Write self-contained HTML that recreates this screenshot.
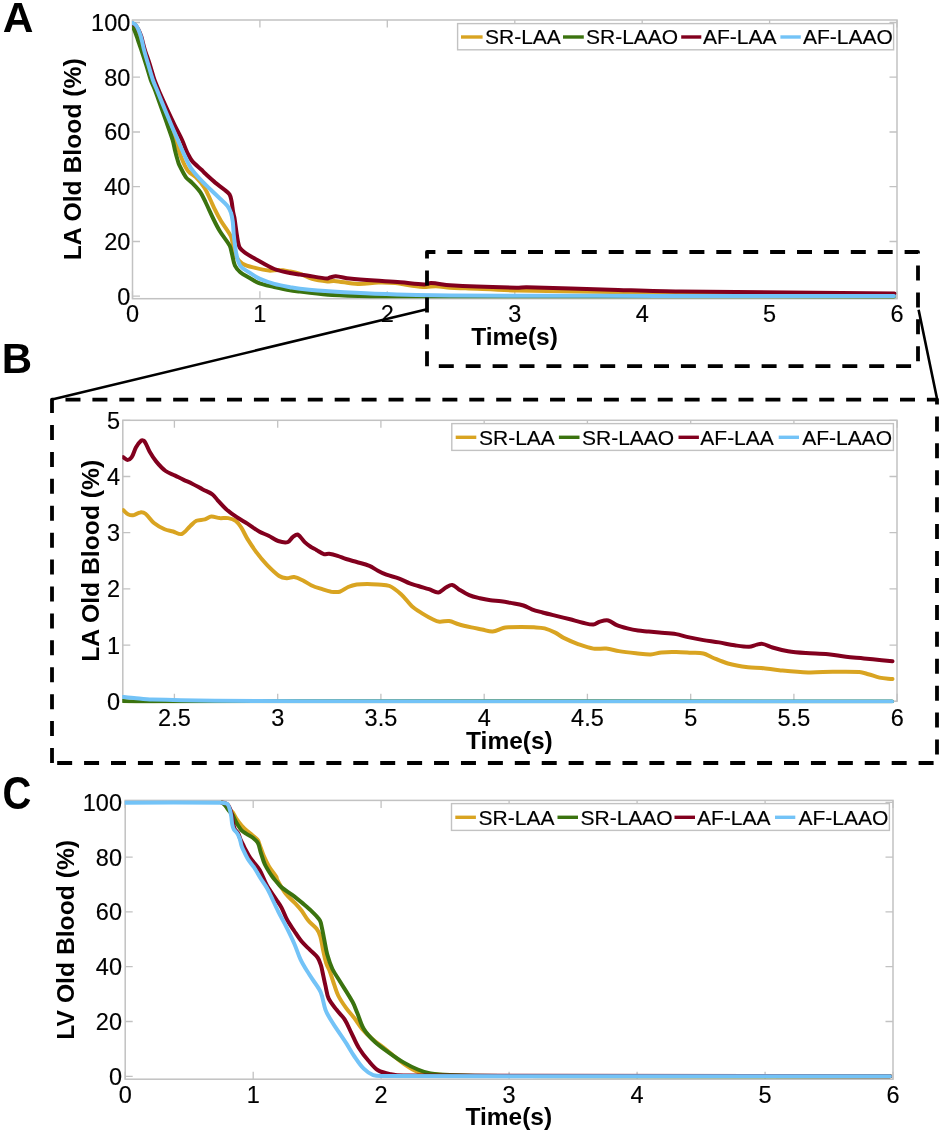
<!DOCTYPE html>
<html><head><meta charset="utf-8"><style>
html,body{margin:0;padding:0;background:#fff;}
svg{display:block;will-change:transform;filter:blur(0.4px);}
text{font-family:"Liberation Sans", sans-serif;fill:#000;stroke:#000;stroke-width:0.15px;} text[font-weight=bold]{stroke-width:0px;}
</style></head><body>
<svg width="942" height="1133" viewBox="0 0 942 1133">
<rect width="942" height="1133" fill="#fff"/>
<defs>
<clipPath id="ca"><rect x="132" y="19" width="767.5" height="281.7"/></clipPath>
<clipPath id="cb"><rect x="122.3" y="419.3" width="777.2" height="284"/></clipPath>
<clipPath id="cc"><rect x="124.7" y="799.4" width="770.8" height="281.8"/></clipPath>
</defs>
<rect x="132.5" y="20" width="764.5" height="278.7" fill="none" stroke="#c2c2c2" stroke-width="1.5"/>
<path d="M132.5 298.7 V291.2 M132.5 20 V27.5 M259.9 298.7 V291.2 M259.9 20 V27.5 M387.3 298.7 V291.2 M387.3 20 V27.5 M514.8 298.7 V291.2 M514.8 20 V27.5 M642.2 298.7 V291.2 M642.2 20 V27.5 M769.6 298.7 V291.2 M769.6 20 V27.5 M897 298.7 V291.2 M897 20 V27.5 M132.5 296.2 H140 M897 296.2 H889.5 M132.5 241.5 H140 M897 241.5 H889.5 M132.5 186.7 H140 M897 186.7 H889.5 M132.5 132 H140 M897 132 H889.5 M132.5 77.2 H140 M897 77.2 H889.5 M132.5 22.5 H140 M897 22.5 H889.5" stroke="#c2c2c2" stroke-width="1.3" fill="none"/>
<text x="132.5" y="322.2" font-size="23.5" text-anchor="middle" font-weight="normal">0</text>
<text x="259.9" y="322.2" font-size="23.5" text-anchor="middle" font-weight="normal">1</text>
<text x="387.3" y="322.2" font-size="23.5" text-anchor="middle" font-weight="normal">2</text>
<text x="514.8" y="322.2" font-size="23.5" text-anchor="middle" font-weight="normal">3</text>
<text x="642.2" y="322.2" font-size="23.5" text-anchor="middle" font-weight="normal">4</text>
<text x="769.6" y="322.2" font-size="23.5" text-anchor="middle" font-weight="normal">5</text>
<text x="897" y="322.2" font-size="23.5" text-anchor="middle" font-weight="normal">6</text>
<text x="130.3" y="304.6" font-size="23.5" text-anchor="end" font-weight="normal">0</text>
<text x="130.3" y="249.9" font-size="23.5" text-anchor="end" font-weight="normal">20</text>
<text x="130.3" y="195.1" font-size="23.5" text-anchor="end" font-weight="normal">40</text>
<text x="130.3" y="140.4" font-size="23.5" text-anchor="end" font-weight="normal">60</text>
<text x="130.3" y="85.7" font-size="23.5" text-anchor="end" font-weight="normal">80</text>
<text x="130.3" y="30.9" font-size="23.5" text-anchor="end" font-weight="normal">100</text>
<path d="M132.6 25.5 C133.8 26.9 135.5 28 136.3 29.6 C138.2 33.6 139.2 38 140.5 42.3 C142.8 49.8 145 57.4 147.3 65 C148.8 70 150.1 75.1 151.8 80 C153 83.4 154.7 86.6 156 90 C158.6 96.6 161.1 103.3 163.7 110 C165.6 115 167.4 120 169.4 125 C170.8 128.6 172.5 132.2 173.8 135.9 C176.4 143 178.4 150.3 181.2 157.2 C183.1 162 185.1 167 188.1 171 C190.1 173.7 193.8 174.9 196.1 177.3 C199.3 180.5 202.2 184.2 204.6 188 C207 191.7 208.6 196 210.5 200 C212.1 203.4 213.5 206.9 215.2 210.2 C217 213.9 218.9 217.5 221 221 C224.1 226.1 228.1 230.8 230.8 236.1 C232.1 238.7 232.2 241.8 232.9 244.6 C233.9 248.5 234.3 252.8 236.1 256.3 C237.5 259.1 239.8 262.1 242.5 263.7 C246.2 265.9 250.9 266.8 255.2 267.9 C259.7 269.1 264.4 270.2 269 270.6 C272.5 270.9 276.1 269.8 279.6 270 C283.1 270.1 286.6 270.9 290 271.5 C293.4 272.1 296.9 272.7 300.2 273.8 C304.3 275.2 308 277.7 312.1 278.9 C317 280.3 322.3 280.9 327.4 281.4 C329.6 281.6 331.9 280.7 334.1 280.9 C342 281.6 349.9 283.7 357.9 284 C364.7 284.3 371.5 282.8 378.3 282.6 C384 282.5 389.7 282.6 395.3 283.1 C401 283.6 406.5 285 412.2 285.7 C416.7 286.3 421.3 286.9 425.8 287 C429.2 287.1 432.6 286.1 436 286.2 C440.7 286.3 445.3 287.4 450 287.7 C455.2 288.1 460.3 288.1 465.5 288.3 C482.5 289 499.4 290 516.4 290.4 C570.9 291.6 625.5 292.3 680 292.9 C751.3 293.7 822.7 294 894 294.5" fill="none" stroke="#D9A421" stroke-width="4.0" stroke-linejoin="round" stroke-linecap="round" clip-path="url(#ca)"/>
<path d="M132.6 27 C133.1 27.9 133.8 28.7 134.2 29.6 C135.1 31.6 135.8 33.8 136.5 35.9 C137.3 38 138 40.2 138.7 42.3 C139.4 44.4 140.2 46.6 140.9 48.7 C142.7 54.1 144.5 59.6 146.2 65 C147.8 70 149.1 75.1 150.8 80 C152 83.4 153.7 86.6 155 90 C156.3 93.3 157.4 96.7 158.6 100 C159.8 103.3 161 106.7 162.2 110 C164 115 165.8 120 167.5 125 C169.2 130 171.1 134.9 172.6 140 C173.6 143.3 174.1 146.7 174.9 150 C175.7 153.3 176.6 156.7 177.6 160 C178 161.5 178.4 163.2 179.1 164.6 C181.2 168.9 183.3 173.4 186 177.3 C187.5 179.4 190 180.7 191.8 182.6 C194.8 185.7 197.9 188.7 200.3 192.2 C202.5 195.4 204 199 205.7 202.5 C208.4 208 210.7 213.6 213.4 219 C215.5 223.3 217.7 227.7 220.2 231.8 C223.1 236.6 227.1 240.8 229.7 245.6 C230.9 247.9 231.1 250.6 231.8 253.1 C232.9 257.3 233.3 261.9 235 265.8 C236.1 268.3 238.2 270.4 240.3 272.2 C242.8 274.3 245.9 275.8 248.8 277.5 C252 279.3 255 281.5 258.4 282.8 C263.5 284.7 269 285.7 274.3 287 C279.5 288.2 284.7 289.4 290 290.3 C293.3 290.9 296.7 291.1 300 291.5 C310.8 292.7 321.6 294.3 332.4 295 C346.5 295.9 360.7 296 374.9 296.2 C399.9 296.5 425 296.3 450 296.3 C598 296.4 746 296.4 894 296.4" fill="none" stroke="#3B730F" stroke-width="4.0" stroke-linejoin="round" stroke-linecap="round" clip-path="url(#ca)"/>
<path d="M132.6 23.5 C133.7 24.2 135 24.6 135.8 25.5 C137.1 26.9 137.9 28.8 138.8 30.5 C139.8 32.4 140.6 34.5 141.3 36.5 C142 38.6 142.4 40.8 143 43 C143.6 45.3 144.2 47.7 144.9 50 C146.5 55 148.4 60 150 65 C151.6 70 152.8 75.1 154.5 80 C155.7 83.4 157.2 86.7 158.6 90 C160 93.4 161.5 96.7 163 100 C164.5 103.3 166 106.7 167.5 110 C169.8 115 172.2 120 174.6 125 C177 130 179.8 134.9 182.1 140 C183.6 143.3 184.7 146.7 186.1 150 C186.8 151.7 187.6 153.4 188.5 155 C189.4 156.7 190.3 158.4 191.4 160 C192.3 161.3 193.4 162.4 194.5 163.5 C196.8 165.8 199.4 167.8 201.8 170 C202.8 171 203.6 172.1 204.6 173.1 C208.1 176.3 211.6 179.6 215.2 182.6 C218.3 185.2 221.7 187.4 224.8 190 C226.4 191.3 228.4 192.6 229.5 194.3 C230.7 196.2 231 198.7 231.5 201 C232.3 204.8 232.5 208.6 233.2 212.4 C233.5 214.3 234.2 216.1 234.5 218 C235.5 224.4 236.1 230.8 237.2 237.2 C237.8 240.8 238.2 244.7 239.8 247.8 C241 250 243.5 251.6 245.6 253.1 C249 255.5 252.7 257.4 256.3 259.4 C262.2 262.7 268 266.5 274.3 269 C279.3 271 284.7 271.9 290 273 C293.3 273.7 296.7 274.1 300 274.6 C302.3 274.9 304.7 275.2 307 275.5 C313.8 276.5 320.7 278 327.4 278.5 C328.6 278.6 329.6 277.5 330.8 277.2 C332.4 276.8 334.1 276.2 335.8 276.3 C340.3 276.6 344.8 278 349.4 278.5 C357.9 279.4 366.4 280 374.9 280.6 C383.4 281.2 391.9 281.6 400.4 282.3 C408.3 282.9 416.2 284.3 424.1 284.5 C426.4 284.6 428.6 283 430.9 283.1 C437.2 283.3 443.6 284.9 450 285.3 C472.1 286.5 494.3 287.2 516.4 287.8 C519.8 287.9 523.2 287.2 526.6 287.3 C557.2 287.9 587.7 289.1 618.3 289.9 C638.9 290.5 659.4 291.2 680 291.5 C751.5 292.4 822.9 292.8 894.4 293.4" fill="none" stroke="#82001E" stroke-width="4.0" stroke-linejoin="round" stroke-linecap="round" clip-path="url(#ca)"/>
<path d="M132.6 23 C133.6 23.6 134.8 24 135.5 24.8 C136.7 26.2 137.6 27.9 138.4 29.6 C139.3 31.6 140 33.8 140.7 35.9 C141.3 38 141.8 40.2 142.3 42.3 C142.8 44.5 143.2 46.8 143.8 49 C145.2 54.4 146.8 59.7 148.4 65 C149.9 70 151.2 75.1 152.9 80 C154.1 83.4 155.6 86.7 157 90 C158.3 93.3 159.7 96.7 161 100 C162.4 103.3 163.7 106.7 165.1 110 C167.2 115 169.2 120 171.3 125 C173.3 129.7 175.4 134.3 177.4 139 C179.7 144.3 181.9 149.7 184.4 155 C186.4 159.3 188.2 163.8 190.8 167.8 C193.5 172 196.9 175.7 200.3 179.4 C203.7 183.1 207.4 186.5 211 190 C214.1 193 217.3 196 220.4 199 C222.8 201.3 225.5 203.4 227.5 206 C229.1 208.1 230.2 210.5 231 213 C232 215.9 232.4 219 232.8 222 C233.4 227 233.4 232.2 234 237.2 C234.7 243.2 235.3 249.3 236.6 255.2 C237.4 258.8 238.2 262.9 240.3 265.8 C242.3 268.6 245.9 270.2 248.8 272.2 C252.2 274.5 255.7 276.9 259.4 278.6 C264.2 280.8 269.2 282.5 274.3 283.9 C279.4 285.3 284.7 286.2 290 287.2 C293.3 287.8 296.6 288.5 300 288.8 C310.8 289.9 321.6 290.9 332.4 291.6 C346.6 292.5 360.7 293.3 374.9 293.8 C399.9 294.6 425 295.3 450 295.5 C520 296 590 295.8 660 295.9 C738 296 816 295.9 894 295.9" fill="none" stroke="#73C3F7" stroke-width="4.0" stroke-linejoin="round" stroke-linecap="round" clip-path="url(#ca)"/>
<rect x="457.6" y="23.6" width="436" height="26.2" fill="#fff" stroke="#c2c2c2" stroke-width="1.4"/>
<path d="M461 37 H482.6" stroke="#D9A421" stroke-width="3.4"/>
<text x="485" y="44.3" font-size="21" text-anchor="start" font-weight="normal">SR-LAA</text>
<path d="M563 37 H583.8" stroke="#3B730F" stroke-width="3.4"/>
<text x="586" y="44.3" font-size="21" text-anchor="start" font-weight="normal">SR-LAAO</text>
<path d="M681.2 37 H701.3" stroke="#82001E" stroke-width="3.4"/>
<text x="703" y="44.3" font-size="21" text-anchor="start" font-weight="normal">AF-LAA</text>
<path d="M780.4 37 H800.8" stroke="#73C3F7" stroke-width="3.4"/>
<text x="803" y="44.3" font-size="21" text-anchor="start" font-weight="normal">AF-LAAO</text>
<text x="514.5" y="344.6" font-size="24.5" text-anchor="middle" font-weight="bold">Time(s)</text>
<text transform="translate(81.2 159.3) rotate(-90)" font-size="24.7" font-weight="bold" text-anchor="middle">LA Old Blood (%)</text>
<rect x="122.8" y="420.3" width="774.2" height="281" fill="none" stroke="#c2c2c2" stroke-width="1.5"/>
<path d="M174.4 701.3 V693.8 M174.4 420.3 V427.8 M277.7 701.3 V693.8 M277.7 420.3 V427.8 M380.9 701.3 V693.8 M380.9 420.3 V427.8 M484.2 701.3 V693.8 M484.2 420.3 V427.8 M587.4 701.3 V693.8 M587.4 420.3 V427.8 M690.7 701.3 V693.8 M690.7 420.3 V427.8 M793.9 701.3 V693.8 M793.9 420.3 V427.8 M897.2 701.3 V693.8 M897.2 420.3 V427.8 M122.8 701.3 H130.3 M897 701.3 H889.5 M122.8 645.1 H130.3 M897 645.1 H889.5 M122.8 588.9 H130.3 M897 588.9 H889.5 M122.8 532.7 H130.3 M897 532.7 H889.5 M122.8 476.5 H130.3 M897 476.5 H889.5 M122.8 420.3 H130.3 M897 420.3 H889.5" stroke="#c2c2c2" stroke-width="1.3" fill="none"/>
<text x="174.4" y="725.8" font-size="23.5" text-anchor="middle" font-weight="normal">2.5</text>
<text x="277.7" y="725.8" font-size="23.5" text-anchor="middle" font-weight="normal">3</text>
<text x="380.9" y="725.8" font-size="23.5" text-anchor="middle" font-weight="normal">3.5</text>
<text x="484.2" y="725.8" font-size="23.5" text-anchor="middle" font-weight="normal">4</text>
<text x="587.4" y="725.8" font-size="23.5" text-anchor="middle" font-weight="normal">4.5</text>
<text x="690.7" y="725.8" font-size="23.5" text-anchor="middle" font-weight="normal">5</text>
<text x="793.9" y="725.8" font-size="23.5" text-anchor="middle" font-weight="normal">5.5</text>
<text x="897.2" y="725.8" font-size="23.5" text-anchor="middle" font-weight="normal">6</text>
<text x="120" y="709.7" font-size="23.5" text-anchor="end" font-weight="normal">0</text>
<text x="120" y="653.5" font-size="23.5" text-anchor="end" font-weight="normal">1</text>
<text x="120" y="597.3" font-size="23.5" text-anchor="end" font-weight="normal">2</text>
<text x="120" y="541.1" font-size="23.5" text-anchor="end" font-weight="normal">3</text>
<text x="120" y="484.9" font-size="23.5" text-anchor="end" font-weight="normal">4</text>
<text x="120" y="428.7" font-size="23.5" text-anchor="end" font-weight="normal">5</text>
<path d="M123.2 510.2 C125 511.6 126.5 513.6 128.5 514.5 C130.1 515.2 132.1 515.4 133.8 515.1 C136 514.7 138 512.6 140.2 512.4 C141.9 512.2 144.1 512.7 145.5 513.8 C148.7 516.3 150.8 520.4 154 523 C157.2 525.6 160.9 527.6 164.6 529.3 C167.2 530.5 170.3 530.7 173.1 531.5 C175.9 532.3 179.1 534.8 181.6 534 C184.8 533 187.2 528.8 190.1 526.2 C192.2 524.4 194 521.9 196.4 520.8 C198.9 519.6 202.2 520.2 204.9 519.4 C207.1 518.8 209.1 516.8 211.3 516.6 C214 516.4 216.9 517.8 219.8 518.1 C222.6 518.3 225.5 517.6 228.3 518.1 C230.8 518.5 233.6 519.3 235.7 520.8 C237.9 522.4 239.5 524.9 241 527.2 C243.4 530.9 245.1 535.1 247.4 538.9 C250.1 543.2 252.9 547.5 255.9 551.6 C259.2 556 262.7 560.4 266.5 564.4 C270.5 568.5 274.6 572.8 279.2 576 C281.3 577.4 284.2 578 286.7 578.2 C289.1 578.4 291.7 576.8 294.1 577.1 C297 577.5 299.9 579 302.6 580.3 C305.5 581.7 308.1 583.8 311.1 585.2 C314.1 586.6 317.4 587.7 320.6 588.7 C324.1 589.8 327.6 591.1 331.2 591.7 C334 592.1 337.1 592.4 339.7 591.7 C342.7 590.9 345.2 588.3 348.2 587 C350.9 585.9 353.8 585 356.7 584.5 C360.2 583.9 363.8 583.9 367.3 583.9 C370.8 583.9 374.4 584.2 377.9 584.5 C381.8 584.9 386.1 584.5 389.6 586 C393.9 587.8 397.7 591.3 401.3 594.5 C405.2 598 408 602.7 411.9 606.2 C415.1 609.1 418.9 611.3 422.5 613.6 C425.9 615.7 429.5 617.8 433.1 619.5 C435.1 620.5 437.3 621.5 439.5 621.7 C442.6 622 446 620.6 449.1 621 C452.3 621.4 455.4 623.3 458.6 624.2 C462.8 625.4 467.1 626.4 471.4 627.4 C474.9 628.2 478.5 628.8 482 629.5 C485.5 630.2 489.1 631.8 492.6 631.6 C496.2 631.3 499.6 629 503.2 628 C504.9 627.5 506.7 627.4 508.5 627.3 C512.7 627 517 626.9 521.2 626.9 C525.5 626.9 529.7 627 534 627.3 C537.5 627.5 541.2 627.5 544.6 628.4 C548.3 629.3 551.8 630.9 555.2 632.6 C558.2 634.1 560.7 636.4 563.7 637.9 C568.5 640.3 573.5 642.5 578.6 644.3 C583.4 646 588.4 647.8 593.4 648.6 C597.6 649.3 602 648.2 606.2 648.6 C610.5 649 614.6 650.4 618.9 651.1 C624.5 652 630.2 652.6 635.9 653.2 C640.8 653.7 645.8 654.7 650.7 654.5 C654.3 654.4 657.8 652.8 661.4 652.4 C666.3 651.9 671.3 651.9 676.2 652 C681.2 652.1 686.1 652.5 691.1 652.8 C695.2 653 699.5 652.6 703.4 653.5 C706.5 654.2 709.3 656.3 712.3 657.5 C717.5 659.6 722.5 662 727.9 663.5 C734.4 665.3 741.3 666.4 748 667.3 C752.4 667.9 756.9 667.6 761.3 668 C767.3 668.6 773.2 669.6 779.2 670.2 C788.8 671.1 798.5 672.1 808.1 672.4 C816.3 672.6 824.5 671.9 832.7 671.8 C841.6 671.7 850.6 671.4 859.4 672 C862.4 672.2 865.4 673.4 868.3 674.2 C872.1 675.2 875.7 676.8 879.5 677.6 C883.8 678.5 888.2 678.6 892.5 679.1" fill="none" stroke="#D9A421" stroke-width="4.0" stroke-linejoin="round" stroke-linecap="round" clip-path="url(#cb)"/>
<path d="M122.8 701 C125.5 701.1 128.3 701.3 131 701.4 C136.3 701.6 141.5 701.8 146.8 701.8 C157.9 701.8 168.9 701.4 180 701.4 C220 701.2 260 701.2 300 701.2 C497.3 701.2 694.7 701.4 892 701.5" fill="none" stroke="#3B730F" stroke-width="4.0" stroke-linejoin="round" stroke-linecap="round" clip-path="url(#cb)"/>
<path d="M123.2 457.2 C124.6 458.1 126 459.9 127.4 459.9 C128.8 459.9 130.8 458.5 131.7 457.2 C133.6 454.4 134.2 450.6 135.9 447.6 C137.3 445.1 139.1 442.2 141.2 440.6 C142 440 143.8 440.4 144.4 441.2 C146.6 444.1 147.7 448.4 149.7 451.8 C151.6 455.1 153.7 458.5 156.1 461.4 C159 464.9 162 468.4 165.6 471 C168.4 473.1 172 474 175.2 475.6 C178 477 180.8 478.5 183.7 479.9 C186.5 481.2 189.4 482.3 192.2 483.7 C195.8 485.5 199.2 487.5 202.8 489.4 C206 491.1 209.6 492.2 212.4 494.3 C214.5 495.8 215.9 498.3 217.7 500.3 C220.5 503.3 223.1 506.5 226.2 509.2 C229.5 512.1 233.1 514.7 236.8 517.2 C240.2 519.5 243.9 521.4 247.4 523.6 C251.4 526.1 255 529.2 259.1 531.5 C262.1 533.2 265.5 534.2 268.6 535.7 C271.9 537.3 274.8 539.9 278.2 541 C281.2 542 284.9 542.9 287.7 542.1 C289.9 541.5 291 538.3 293 536.8 C294.4 535.8 296.5 534 297.9 534.6 C300.4 535.8 302.3 539.8 304.7 542.1 C306.6 543.9 308.8 545.5 311 547 C312.7 548.1 314.6 548.9 316.4 549.9 C318.9 551.3 321.2 553.3 323.8 554.1 C325.4 554.6 327.4 553.5 329.1 553.7 C332 554.1 334.8 554.9 337.6 555.8 C340.5 556.7 343.2 558.1 346.1 559 C349.6 560.1 353.2 561 356.7 562 C360.9 563.2 365.3 564.1 369.4 565.8 C372.4 567 375 569.2 377.9 570.7 C380.7 572.2 383.5 573.6 386.4 574.7 C390.6 576.2 395 577 399.2 578.6 C402.8 579.9 406.2 582 409.8 583.4 C412.6 584.5 415.5 585.1 418.3 586 C421.8 587.1 425.4 588.1 428.9 589.2 C432.1 590.2 435.4 592.7 438.4 592.4 C441.1 592.1 443.3 588.9 445.9 587.5 C447.9 586.4 450.2 584.6 452.2 584.9 C454.4 585.2 456.4 587.9 458.6 589.2 C462.1 591.3 465.5 593.5 469.2 595.1 C472.6 596.6 476.3 597.4 479.9 598.3 C483.4 599.1 486.9 599.7 490.5 600.2 C494 600.7 497.6 600.8 501.1 601.3 C504.3 601.7 507.4 602.3 510.6 602.9 C514.9 603.7 519.3 604.2 523.4 605.5 C526.3 606.4 528.9 608.2 531.8 609.3 C535.3 610.6 538.9 611.5 542.5 612.5 C546.7 613.6 551 614.6 555.2 615.6 C560.2 616.8 565.1 618 570.1 619.3 C574.3 620.4 578.5 621.7 582.8 622.7 C586.3 623.5 590 624.8 593.4 624.6 C595.6 624.5 597.6 622.2 599.8 621.6 C602.5 620.9 605.6 619.9 608.3 620.5 C611.3 621.1 613.8 624 616.8 625.2 C620.2 626.6 623.8 627.5 627.4 628.4 C630.9 629.3 634.4 630 638 630.5 C641.5 631 645.1 631.2 648.6 631.6 C652.1 631.9 655.7 632.3 659.2 632.6 C664.9 633.1 670.6 633.2 676.2 634.1 C679.8 634.7 683.2 636.1 686.8 636.9 C692.3 638.1 697.8 639.2 703.4 640.1 C708.6 641 713.8 641.5 719 642.4 C724.2 643.3 729.4 644.5 734.6 645.3 C739.4 646 744.3 646.9 749.1 646.8 C751.8 646.7 754.3 645.2 756.9 644.6 C758.7 644.2 760.6 643.6 762.4 643.9 C765.8 644.5 769.1 646.5 772.5 647.5 C777.6 649 782.8 650.4 788.1 651.3 C794 652.3 800 652.7 805.9 653.1 C813.3 653.6 820.8 653.5 828.2 654.2 C834.2 654.8 840 656.1 846 656.8 C851.9 657.5 857.9 657.8 863.9 658.4 C869.8 659 875.8 659.6 881.7 660.2 C885.3 660.6 888.9 660.9 892.5 661.3" fill="none" stroke="#82001E" stroke-width="4.0" stroke-linejoin="round" stroke-linecap="round" clip-path="url(#cb)"/>
<path d="M122.8 696.9 C127.3 697.4 131.7 697.9 136.2 698.3 C141.5 698.8 146.9 699.4 152.2 699.6 C173.1 700.2 194.1 700.5 215 700.7 C243.3 701 271.7 701.3 300 701.3 C497.3 701.6 694.7 701.5 892 701.6" fill="none" stroke="#73C3F7" stroke-width="4.0" stroke-linejoin="round" stroke-linecap="round" clip-path="url(#cb)"/>
<rect x="451.8" y="423.6" width="441.6" height="26.8" fill="#fff" stroke="#c2c2c2" stroke-width="1.4"/>
<path d="M455.7 437.3 H476.3" stroke="#D9A421" stroke-width="3.4"/>
<text x="479" y="444.6" font-size="21" text-anchor="start" font-weight="normal">SR-LAA</text>
<path d="M558.9 437.3 H579.5" stroke="#3B730F" stroke-width="3.4"/>
<text x="582" y="444.6" font-size="21" text-anchor="start" font-weight="normal">SR-LAAO</text>
<path d="M678.5 437.3 H698.9" stroke="#82001E" stroke-width="3.4"/>
<text x="700.3" y="444.6" font-size="21" text-anchor="start" font-weight="normal">AF-LAA</text>
<path d="M778.7 437.3 H799" stroke="#73C3F7" stroke-width="3.4"/>
<text x="802.2" y="444.6" font-size="21" text-anchor="start" font-weight="normal">AF-LAAO</text>
<text x="509.4" y="748.6" font-size="24.5" text-anchor="middle" font-weight="bold">Time(s)</text>
<text transform="translate(98.6 560.8) rotate(-90)" font-size="24.7" font-weight="bold" text-anchor="middle">LA Old Blood (%)</text>
<rect x="125.2" y="800.4" width="767.8" height="278.8" fill="none" stroke="#c2c2c2" stroke-width="1.5"/>
<path d="M125.2 1079.2 V1071.7 M125.2 800.4 V807.9 M253.2 1079.2 V1071.7 M253.2 800.4 V807.9 M381.1 1079.2 V1071.7 M381.1 800.4 V807.9 M509.1 1079.2 V1071.7 M509.1 800.4 V807.9 M637.1 1079.2 V1071.7 M637.1 800.4 V807.9 M765.1 1079.2 V1071.7 M765.1 800.4 V807.9 M893 1079.2 V1071.7 M893 800.4 V807.9 M125.2 1076.3 H132.7 M893 1076.3 H885.5 M125.2 1021.5 H132.7 M893 1021.5 H885.5 M125.2 966.7 H132.7 M893 966.7 H885.5 M125.2 911.9 H132.7 M893 911.9 H885.5 M125.2 857.1 H132.7 M893 857.1 H885.5 M125.2 802.3 H132.7 M893 802.3 H885.5" stroke="#c2c2c2" stroke-width="1.3" fill="none"/>
<text x="125.2" y="1102.7" font-size="23.5" text-anchor="middle" font-weight="normal">0</text>
<text x="253.2" y="1102.7" font-size="23.5" text-anchor="middle" font-weight="normal">1</text>
<text x="381.1" y="1102.7" font-size="23.5" text-anchor="middle" font-weight="normal">2</text>
<text x="509.1" y="1102.7" font-size="23.5" text-anchor="middle" font-weight="normal">3</text>
<text x="637.1" y="1102.7" font-size="23.5" text-anchor="middle" font-weight="normal">4</text>
<text x="765.1" y="1102.7" font-size="23.5" text-anchor="middle" font-weight="normal">5</text>
<text x="893" y="1102.7" font-size="23.5" text-anchor="middle" font-weight="normal">6</text>
<text x="122" y="1084.7" font-size="23.5" text-anchor="end" font-weight="normal">0</text>
<text x="122" y="1029.9" font-size="23.5" text-anchor="end" font-weight="normal">20</text>
<text x="122" y="975.1" font-size="23.5" text-anchor="end" font-weight="normal">40</text>
<text x="122" y="920.3" font-size="23.5" text-anchor="end" font-weight="normal">60</text>
<text x="122" y="865.5" font-size="23.5" text-anchor="end" font-weight="normal">80</text>
<text x="122" y="810.7" font-size="23.5" text-anchor="end" font-weight="normal">100</text>
<path d="M222 802.7 C223 803.3 224.1 803.7 225 804.5 C226.1 805.5 227 806.9 228 808 C228.8 808.9 229.6 809.7 230.5 810.5 C231.2 811.2 232.2 811.7 232.8 812.5 C234.2 814.5 235.1 816.9 236.5 818.9 C238.1 821.3 239.9 823.6 241.8 825.8 C243.5 827.7 245.3 829.4 247.2 831.1 C248.9 832.6 250.8 833.8 252.5 835.3 C254.3 836.8 256.4 838.3 257.8 840.1 C258.7 841.2 258.9 842.8 259.4 844.1 C260.9 848 262.1 852 263.7 855.8 C265.3 859.4 267 863 269 866.4 C271.2 870.1 274.2 873.4 276.4 877 C276.9 877.9 276.8 879.1 277.3 880 C279.9 884.7 282.5 889.5 285.8 893.8 C288.5 897.3 292.2 900.1 295.3 903.4 C297.5 905.8 299.7 908.2 301.7 910.8 C304 913.8 305.7 917.4 308.1 920.3 C310.6 923.4 314.2 925.7 316.6 928.8 C318.3 931 319.5 933.7 320.3 936.3 C321.6 940.4 322 944.8 322.9 949 C323.9 953.6 324.7 958.3 326.1 962.8 C326.9 965.5 328.5 967.9 329.5 970.5 C330.8 973.9 331.8 977.5 333 981 C334.7 985.8 336 990.9 338.2 995.5 C340.4 1000 343.3 1004.1 346.2 1008.2 C348.6 1011.6 351.6 1014.5 354.1 1017.8 C356.9 1021.4 359.2 1025.4 362.1 1028.9 C365 1032.3 368.3 1035.5 371.7 1038.5 C376.3 1042.4 381.3 1045.9 386 1049.6 C391.3 1053.8 396.3 1058.5 401.9 1062.4 C406.9 1065.9 412.1 1069.8 417.8 1071.9 C422.8 1073.7 428.4 1073.7 433.8 1074.3 C439.2 1074.9 444.6 1075.4 450 1075.5 C466.7 1075.9 483.3 1076 500 1076 C630 1076.2 760 1076.2 890 1076.3" fill="none" stroke="#D9A421" stroke-width="4.0" stroke-linejoin="round" stroke-linecap="round" clip-path="url(#cc)"/>
<path d="M222 802.7 C223 803.5 224.1 804.2 224.9 805.1 C225.9 806.2 226.6 807.6 227.5 808.8 C228.3 809.9 229.1 811 230 812 C230.9 813.1 232.1 814 232.8 815.2 C233.7 816.7 234.2 818.4 235 820 C235.8 821.6 236.6 823.2 237.6 824.7 C238.9 826.7 240.1 828.9 241.8 830.6 C243.3 832.1 245.4 833.1 247.2 834.3 C248.9 835.4 250.9 836.2 252.5 837.5 C254.4 839.1 256.6 840.7 257.8 842.8 C259.3 845.4 259.6 848.7 260.5 851.6 C261.9 855.8 263 860.3 264.8 864.3 C266.5 868 268.9 871.5 271.1 874.9 C272.3 876.7 273.6 878.4 275 880 C277.1 882.5 279 885.3 281.5 887.4 C284.8 890.2 288.7 892.3 292.2 894.9 C295.8 897.6 299.3 900.5 302.8 903.4 C306 906.1 309.3 908.8 312.3 911.8 C315 914.5 317.9 917.1 319.8 920.3 C321.1 922.5 321.3 925.3 321.9 927.8 C322.7 931.3 323.3 934.9 324 938.4 C325.1 943.7 325.8 949.1 327.2 954.3 C328.6 959.3 330.2 964.3 332.4 969 C334.5 973.4 337.5 977.3 340 981.5 C344.2 988.3 348.7 994.9 352.5 1001.8 C354.5 1005.4 355.7 1009.2 357.3 1013 C359.5 1018.3 360.8 1024.1 363.7 1028.9 C366.6 1033.7 370.7 1037.9 374.8 1041.7 C379.2 1045.8 384.3 1049.3 389.2 1052.8 C393.9 1056.2 398.6 1059.5 403.5 1062.4 C408.1 1065.1 412.9 1067.5 417.8 1069.5 C421.9 1071.2 426.2 1072.7 430.6 1073.5 C437 1074.6 443.5 1074.9 450 1075.1 C466.7 1075.7 483.3 1076 500 1076 C630 1076.4 760 1076.2 890 1076.3" fill="none" stroke="#3B730F" stroke-width="4.0" stroke-linejoin="round" stroke-linecap="round" clip-path="url(#cc)"/>
<path d="M222 802.7 C223.2 802.9 224.4 802.9 225.5 803.3 C226.4 803.7 227.4 804.2 228 805 C229.1 806.4 229.9 808.3 230.5 810 C231.2 811.9 231.6 814 232 816 C232.5 818.8 232.7 821.7 233.3 824.5 C233.7 826.2 234.2 828 235 829.5 C235.8 831 237.5 832 238.3 833.5 C239.2 835 239.4 836.9 240.1 838.5 C241.1 840.7 242.2 842.8 243.3 845 C243.8 846.1 244.3 847.3 244.9 848.4 C246.6 851.6 248.2 854.9 250.3 857.9 C253.2 862.1 257.1 865.7 259.7 870 C262.5 874.7 264 880.2 266.7 885 C269.6 890.2 273.3 895 276.6 900 C278.3 902.5 280.1 904.9 281.5 907.6 C283.5 911.4 284.8 915.6 286.8 919.3 C289 923.4 291.7 927.1 294.3 931 C296.7 934.6 299 938.3 301.7 941.6 C304.3 944.7 307.4 947.3 310.2 950.1 C312.7 952.6 315.6 954.7 317.6 957.5 C319.1 959.6 319.9 962.4 320.8 964.9 C321.6 967.2 322 969.6 322.5 972 C323.5 976.6 324.4 981.3 325.5 985.9 C326.5 990.2 326.9 994.8 328.7 998.7 C330.6 1002.7 333.8 1006.2 336.6 1009.8 C339.1 1013.1 342.4 1015.9 344.6 1019.4 C347.2 1023.4 348.9 1027.9 351 1032.1 C353.6 1037.4 355.8 1043 358.9 1048 C361.7 1052.5 365 1056.8 368.5 1060.8 C371.4 1064.2 374.3 1068 378 1070.3 C381.7 1072.5 386.4 1073.4 390.8 1074.3 C394.9 1075.2 399.2 1075.6 403.5 1075.6 C565.6 1076.2 727.8 1076.1 890 1076.3" fill="none" stroke="#82001E" stroke-width="4.0" stroke-linejoin="round" stroke-linecap="round" clip-path="url(#cc)"/>
<path d="M125.2 802.7 C157.5 802.7 189.7 802.5 222 802.7 C223.2 802.7 224.4 802.9 225.5 803.2 C226.3 803.5 227.3 803.8 227.8 804.5 C228.8 806 229.4 808.1 229.9 809.9 C230.5 812 230.9 814.1 231.2 816.2 C231.7 819 231.7 821.9 232.3 824.7 C232.6 826.3 233.1 828.1 233.9 829.5 C234.7 830.9 236.2 831.8 237.1 833.2 C238.2 834.8 239 836.7 239.7 838.5 C240.4 840.6 240.7 842.9 241.3 845 C241.6 846.2 242 847.3 242.5 848.4 C244.2 852 245.8 855.6 247.8 859 C249.6 862 252.2 864.6 254.1 867.5 C256.6 871.2 258.6 875.2 261 879 C262.9 882 265.1 884.9 266.9 888 C268.4 890.5 269.6 893.2 270.9 895.9 C273.4 901.2 275.8 906.6 278.4 911.8 C281.1 917.2 284.1 922.4 286.8 927.8 C289.4 933 292 938.3 294.3 943.7 C296.6 948.9 298.2 954.5 300.6 959.6 C302.5 963.6 304.8 967.3 307.1 971 C308.9 973.9 310.9 976.7 312.7 979.6 C315.4 983.8 318.8 987.7 320.7 992.3 C323 997.8 323.5 1004.1 325.5 1009.8 C326.5 1012.6 328 1015.2 329.5 1017.8 C331.7 1021.6 334.2 1025.2 336.6 1028.9 C339.8 1033.7 343.1 1038.4 346.2 1043.2 C348.9 1047.4 351.3 1051.9 354.1 1056 C357.1 1060.4 360 1065 363.7 1068.7 C366.4 1071.4 369.7 1073.8 373.2 1075.1 C376.1 1076.2 379.6 1076 382.8 1076 C551.9 1076.4 720.9 1076.2 890 1076.3" fill="none" stroke="#73C3F7" stroke-width="4.0" stroke-linejoin="round" stroke-linecap="round" clip-path="url(#cc)"/>
<rect x="451.5" y="803.6" width="437.9" height="26.8" fill="#fff" stroke="#c2c2c2" stroke-width="1.4"/>
<path d="M455.3 817.3 H475.9" stroke="#D9A421" stroke-width="3.4"/>
<text x="478.6" y="824.6" font-size="21" text-anchor="start" font-weight="normal">SR-LAA</text>
<path d="M557.5 817.3 H578" stroke="#3B730F" stroke-width="3.4"/>
<text x="580.5" y="824.6" font-size="21" text-anchor="start" font-weight="normal">SR-LAAO</text>
<path d="M674.5 817.3 H695" stroke="#82001E" stroke-width="3.4"/>
<text x="697" y="824.6" font-size="21" text-anchor="start" font-weight="normal">AF-LAA</text>
<path d="M775 817.3 H795.3" stroke="#73C3F7" stroke-width="3.4"/>
<text x="798.5" y="824.6" font-size="21" text-anchor="start" font-weight="normal">AF-LAAO</text>
<text x="508.8" y="1125.3" font-size="24.5" text-anchor="middle" font-weight="bold">Time(s)</text>
<text transform="translate(73.6 939.8) rotate(-90)" font-size="24.7" font-weight="bold" text-anchor="middle">LV Old Blood (%)</text>
<text x="2.8" y="31.8" font-size="42.5" text-anchor="start" font-weight="bold">A</text>
<text x="1.8" y="373.2" font-size="42" text-anchor="start" font-weight="bold">B</text>
<text transform="translate(2.4 808.7) scale(0.94 1.07)" font-size="42.5" font-weight="bold">C</text>
<path d="M427 366.2 V252 H918 V366.2 H427" stroke="#000" stroke-width="3.8" fill="none" stroke-dasharray="15 11.90" stroke-linejoin="round"/>
<path d="M52 763 V399.6 H937 V763 H52" stroke="#000" stroke-width="3.8" fill="none" stroke-dasharray="15 11.92" stroke-linejoin="round"/>
<path d="M52 399.6 L427 309.3 M918.6 309.8 L937.3 400" stroke="#000" stroke-width="2.6" fill="none"/>
</svg>
</body></html>
